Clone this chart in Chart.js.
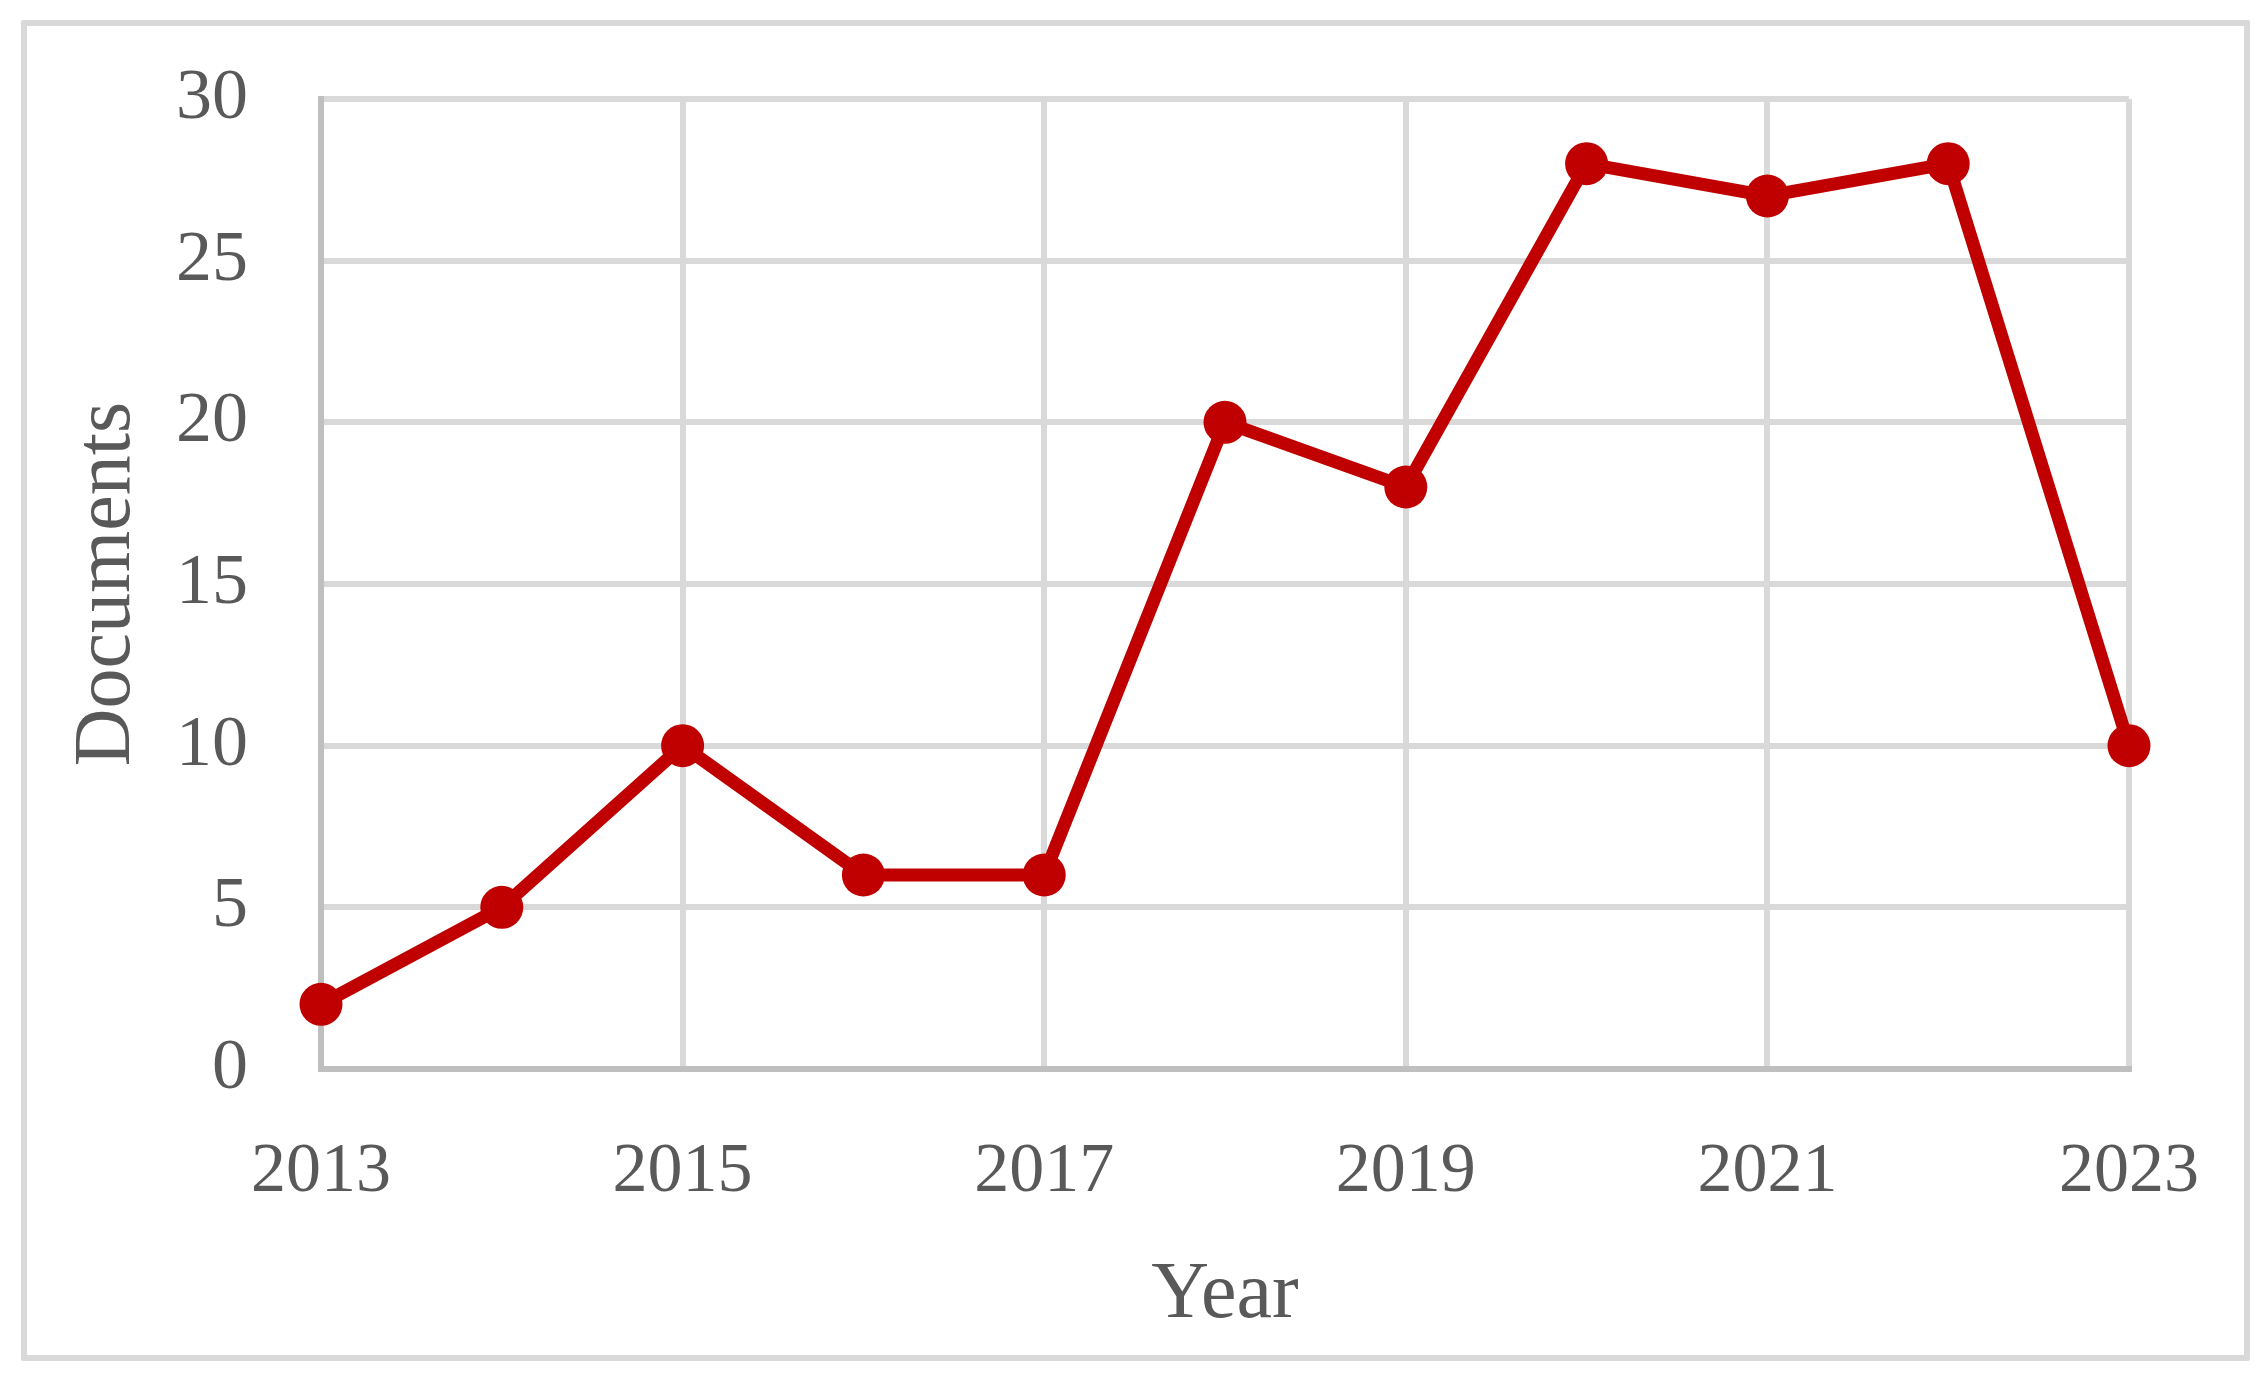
<!DOCTYPE html>
<html>
<head>
<meta charset="utf-8">
<script src="https://cdn.jsdelivr.net/npm/chart.js"></script>
<style>
  html, body { margin: 0; padding: 0; background: #fff; }
  #wrap { position: relative; width: 2266px; height: 1380px; }
  #frame {
    position: absolute; left: 21px; top: 20px; width: 2229px; height: 1341px;
    box-sizing: border-box; border: 6px solid #d9d9d9; border-radius: 2px;
  }
  #chart { position: absolute; left: 0; top: 0; }
</style>
</head>
<body>
<div id="wrap">
  <div id="frame"></div>
  <canvas id="chart" width="2266" height="1380"></canvas>
</div>
<script>
// Publications per year
const years = [2013, 2014, 2015, 2016, 2017, 2018, 2019, 2020, 2021, 2022, 2023];
const documents = [2, 5, 10, 6, 6, 20, 18, 28, 27, 28, 10];
const xTitle = 'Year';
const yTitle = 'Documents';

const fontFamily = "'Palatino Linotype', 'Book Antiqua', Palatino, 'Liberation Serif', serif";
const textColor = '#595959';
const gridColor = '#d9d9d9';
const axisColor = '#bfbfbf';

const ctx = document.getElementById('chart').getContext('2d');
new Chart(ctx, {
  type: 'line',
  data: {
    datasets: [{
      data: years.map((y, i) => ({ x: y, y: documents[i] })),
      borderColor: '#c00000',
      backgroundColor: '#c00000',
      borderWidth: 13,
      pointRadius: 21.5,
      pointHoverRadius: 21.5,
      pointBorderWidth: 0,
      tension: 0,
      clip: false
    }]
  },
  options: {
    responsive: false,
    animation: false,
    events: [],
    layout: { padding: { left: 40, top: 99, right: 137, bottom: 0 } },
    plugins: { legend: { display: false }, tooltip: { enabled: false } },
    scales: {
      x: {
        type: 'linear',
        min: 2013,
        max: 2023,
        afterFit: s => { s.height = 311; },
        ticks: {
          stepSize: 2,
          padding: 62,
          color: textColor,
          font: { family: fontFamily, size: 70 },
          callback: v => String(v)
        },
        grid: { color: gridColor, lineWidth: 6, drawTicks: false },
        border: { color: axisColor, width: 6 },
        title: {
          display: true, text: xTitle, color: textColor,
          font: { family: fontFamily, size: 80 },
          padding: { top: 0, bottom: 36 }
        }
      },
      y: {
        min: 0,
        max: 30,
        afterFit: s => { s.width = 281; },
        ticks: {
          stepSize: 5,
          padding: 0,
          color: textColor,
          font: { family: fontFamily, size: 72 }
        },
        // invisible tick marks keep the gap between labels and axis
        grid: { color: gridColor, lineWidth: 6, drawTicks: true, tickLength: 73, tickColor: 'rgba(0,0,0,0)' },
        border: { color: axisColor, width: 6 },
        title: {
          display: true, text: yTitle, color: textColor,
          font: { family: fontFamily, size: 80 },
          padding: { top: 20, bottom: 0 }
        }
      }
    }
  }
});
</script>
</body>
</html>
